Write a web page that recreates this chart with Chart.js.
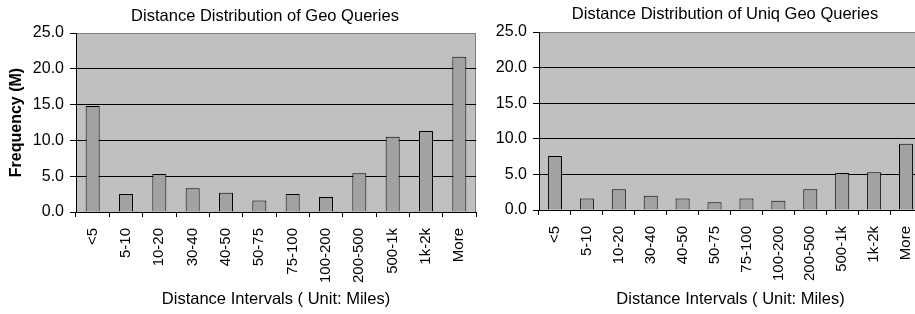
<!DOCTYPE html>
<html>
<head>
<meta charset="utf-8">
<script src="https://cdn.jsdelivr.net/npm/chart.js@4.4.0/dist/chart.umd.min.js"></script>
<style>
  html, body { margin: 0; padding: 0; background: #fff; overflow: hidden; }
  body { width: 915px; height: 314px; position: relative; }
  canvas { position: absolute; top: 0; }
</style>
</head>
<body>
<canvas id="geoChart" style="left:0px" width="530" height="314"></canvas>
<canvas id="uniqChart" style="left:480px" width="490" height="314"></canvas>
<script>
const distanceLabels = ['<5', '5-10', '10-20', '30-40', '40-50', '50-75', '75-100', '100-200', '200-500', '500-1k', '1k-2k', 'More'];
const geoQueries = [14.8, 2.5, 5.3, 3.3, 2.7, 1.6, 2.5, 2.1, 5.4, 10.5, 11.3, 21.7];
const uniqGeoQueries = [7.6, 1.6, 2.9, 2.0, 1.6, 1.1, 1.6, 1.3, 2.9, 5.2, 5.3, 9.3];
const freqTicks = [0, 5, 10, 15, 20, 25];

Chart.defaults.font.family = "'Liberation Sans', Arial, sans-serif";
Chart.defaults.color = '#000';

// grey plot area + grey right edge, like the old Excel charts
const plotBackground = {
  id: 'plotBackground',
  beforeDraw(chart) {
    const { ctx, chartArea: a } = chart;
    ctx.save();
    ctx.fillStyle = '#c0c0c0';
    ctx.fillRect(a.left, a.top, a.right - a.left, a.bottom - a.top);
    ctx.strokeStyle = '#808080';
    ctx.lineWidth = 1;
    ctx.beginPath();
    ctx.moveTo(Math.round(a.right) - 0.5, a.top);
    ctx.lineTo(Math.round(a.right) - 0.5, a.bottom);
    ctx.stroke();
    ctx.restore();
  }
};

const makeChart = (id, title, values, o) => {
  const ctx = document.getElementById(id).getContext('2d');
  return new Chart(ctx, {
    type: 'bar',
    data: {
      labels: distanceLabels,
      datasets: [{
        data: values,
        backgroundColor: '#a2a2a2',
        borderColor: '#000',
        borderWidth: 1,
        barPercentage: o.barPct,
        categoryPercentage: 1,
        yAxisID: 'y',
      }],
    },
    plugins: [plotBackground],
    options: {
      responsive: false,
      animation: false,
      layout: { padding: 0 },
      scales: {
        x: {
          afterFit: (s) => { s.height = o.xHeight; },
          ticks: { minRotation: 90, maxRotation: 90, autoSkip: false, padding: 11, font: { size: 15 } },
          grid: { offset: true, drawOnChartArea: false, color: '#000', tickLength: 5 },
          border: { color: '#000' },
          title: {
            display: true,
            text: 'Distance Intervals ( Unit: Miles)',
            font: { size: 16.5 },
            padding: { top: 0, bottom: 4.5 },
          },
        },
        y: {
          min: freqTicks[0],
          max: freqTicks[freqTicks.length - 1],
          afterFit: (s) => { s.width = o.yWidth; },
          ticks: { stepSize: 5, padding: 6, font: { size: 16 }, callback: (v) => v.toFixed(1) },
          grid: {
            color: (c) => (c.tick && c.tick.value === 25 ? '#808080' : '#000'),
            tickColor: '#000',
            tickLength: 6,
          },
          border: { color: '#000' },
          title: {
            display: !!o.yTitle,
            text: o.yTitle || '',
            font: { size: 16, weight: 'bold' },
            padding: { top: 7, bottom: 0 },
          },
        },
        // empty box on the right so the chart title centres like the original
        yPad: {
          position: 'right',
          afterFit: (s) => { s.width = o.rightGap; },
          ticks: { display: false },
          grid: { display: false },
          border: { display: false },
        },
      },
      plugins: {
        legend: { display: false },
        tooltip: { enabled: false },
        title: {
          display: true,
          text: title,
          font: { size: 16.5, weight: 'normal' },
          padding: { top: o.titleTop, bottom: o.titleBottom },
        },
      },
    },
  });
};

makeChart('geoChart', 'Distance Distribution of Geo Queries', geoQueries, {
  barPct: 0.42, rightGap: 54, xHeight: 102, yWidth: 76, yTitle: 'Frequency (M)', titleTop: 6.1, titleBottom: 7.1,
});
makeChart('uniqChart', 'Distance Distribution of Uniq Geo Queries', uniqGeoQueries, {
  barPct: 0.44, rightGap: 48, xHeight: 104, yWidth: 59, titleTop: 4.2, titleBottom: 8,
});
</script>
</body>
</html>
